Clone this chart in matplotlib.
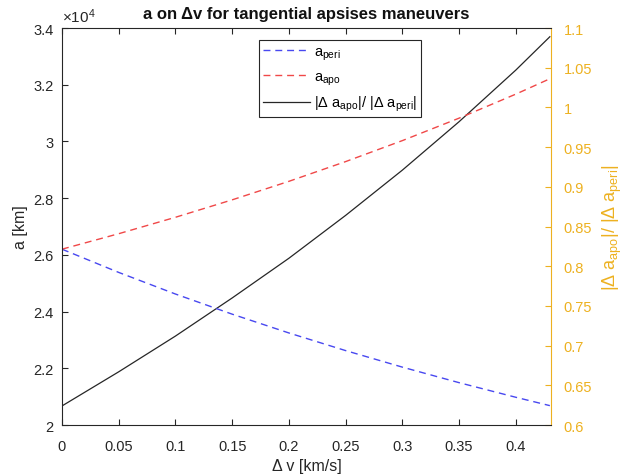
import matplotlib
matplotlib.use("Agg")
import matplotlib.pyplot as plt
from matplotlib.ticker import FuncFormatter, MultipleLocator

plt.rcParams['font.family'] = ['Liberation Sans', 'DejaVu Sans']
plt.rcParams['mathtext.default'] = 'regular'
plt.rcParams['mathtext.fontset'] = 'custom'
plt.rcParams['mathtext.rm'] = 'Liberation Sans'

dv = [0.0, 0.05, 0.10, 0.15, 0.20, 0.25, 0.30, 0.35, 0.40, 0.43]
a_peri = [26200, 25381, 24619, 23909, 23246, 22624, 22041, 21493, 20978, 20683]
a_apo = [26200, 26746, 27325, 27940, 28593, 29289, 30029, 30821, 31668, 32210]
ratio = [0.624, 0.667, 0.712, 0.760, 0.810, 0.864, 0.921, 0.982, 1.047, 1.089]

yel = '#EDB120'
fig = plt.figure(figsize=(6.35, 4.77), dpi=100)
ax = fig.add_axes([0.0976, 0.1069, 0.7701, 0.8323])
ax2 = ax.twinx()

l1, = ax.plot(dv, a_peri, '--', color='#4848f0', lw=1.0, dashes=(5, 3.5))
l2, = ax.plot(dv, a_apo, '--', color='#f04848', lw=1.0, dashes=(5, 3.5))
l3, = ax2.plot(dv, ratio, '-', color='#262626', lw=0.9)

ax.set_xlim(0, 0.431)
ax.set_ylim(20000, 34000)
ax2.set_ylim(0.6, 1.1)
ax.xaxis.set_major_locator(MultipleLocator(0.05))
ax.yaxis.set_major_locator(MultipleLocator(2000))
ax2.yaxis.set_major_locator(MultipleLocator(0.05))
ax.xaxis.set_major_formatter(FuncFormatter(lambda v, p: ('%g' % round(v, 3))))
ax.yaxis.set_major_formatter(FuncFormatter(lambda v, p: ('%g' % round(v / 1e4, 3))))
ax2.yaxis.set_major_formatter(FuncFormatter(lambda v, p: ('%g' % round(v, 3))))

ax.tick_params(axis='both', direction='in', labelsize=10.5, colors='#262626', top=True, length=4, width=0.8)
ax.tick_params(axis='x', pad=10)
ax.tick_params(axis='y', right=False, pad=6)
ax2.tick_params(axis='y', direction='in', labelsize=10.5, colors=yel, length=4, width=0.8, pad=9)
for s in ['left', 'bottom', 'top']:
    ax.spines[s].set_color('#262626')
    ax.spines[s].set_linewidth(0.8)
ax2.spines['right'].set_color(yel)
ax2.spines['right'].set_linewidth(0.8)
ax.spines['right'].set_visible(False)
for s in ['left', 'bottom', 'top']:
    ax2.spines[s].set_visible(False)

ax.set_xlabel('Δ v [km/s]', fontsize=11.5, color='#262626', labelpad=4)
ax.set_ylabel('a [km]', fontsize=11.5, color='#262626', labelpad=4)
ax2.set_ylabel('|Δ a$_{apo}$|/ |Δ a$_{peri}$|', fontsize=13, color=yel, labelpad=6)
ax.set_title('a on Δv for tangential apsises maneuvers', fontsize=12, fontweight='bold', color='#111111', pad=7)
ax.text(0.0, 1.008, '×10$^{4}$', transform=ax.transAxes, fontsize=11, color='#262626', ha='left', va='bottom')

leg = ax.legend([l1, l2, l3], ['a$_{peri}$', 'a$_{apo}$', '|Δ a$_{apo}$|/ |Δ a$_{peri}$|'],
                loc='upper left', bbox_to_anchor=(0.387, 0.988), fontsize=10.5, handlelength=3.2,
                fancybox=False, framealpha=1, edgecolor='#262626', borderpad=0.3, labelspacing=0.5,
                handletextpad=0.3)
leg.get_frame().set_linewidth(0.8)
leg.set_zorder(10)
ax.set_zorder(ax2.get_zorder() + 1)
ax.patch.set_visible(False)

fig.savefig('out.png', dpi=100)
